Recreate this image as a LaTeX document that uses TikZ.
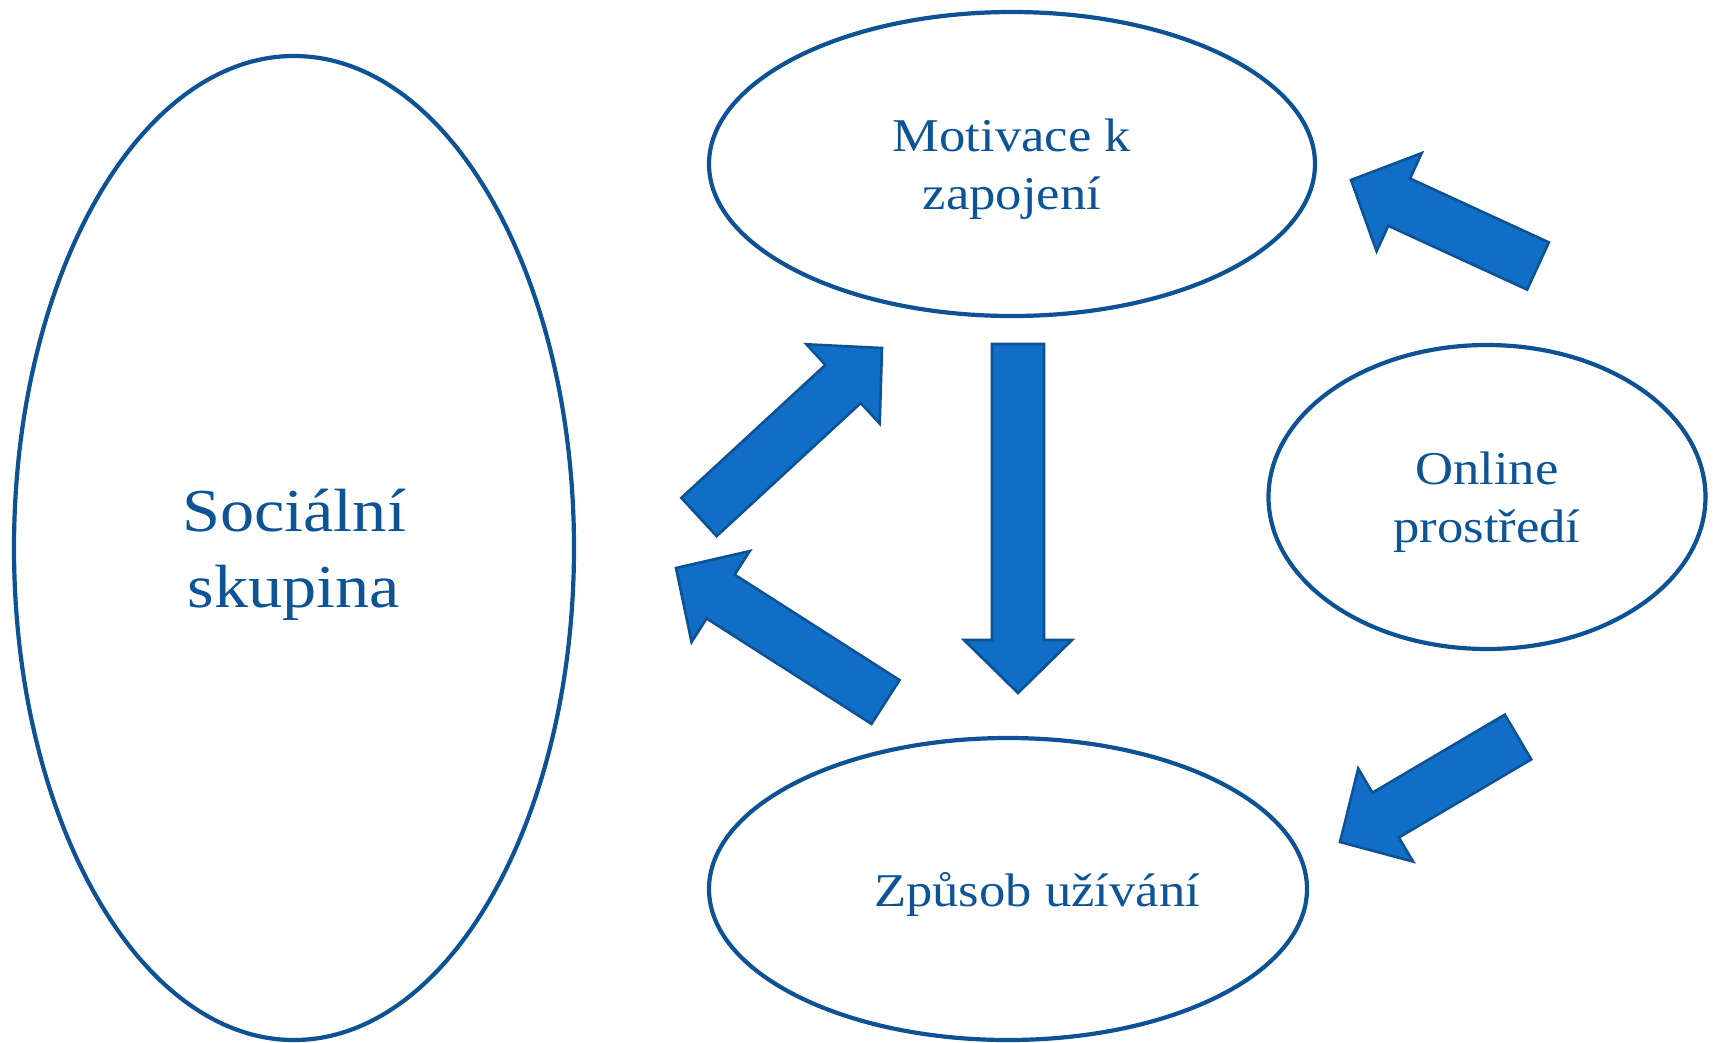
\documentclass[tikz,border=0pt]{standalone}
\usepackage{fontspec}
\setmainfont{Liberation Serif}[FakeStretch=1.12]
\usetikzlibrary{shapes.geometric,calc}

\definecolor{edgeblue}{RGB}{12,82,148}
\definecolor{fillblue}{RGB}{16,110,198}
\definecolor{textblue}{RGB}{12,84,150}

\tikzset{
  bubble/.style={ellipse, draw=edgeblue, line width=4.2pt, inner sep=0pt, fill=white},
  caption/.style={text=textblue, align=center, inner sep=0pt},
  blockarrow/.style={draw=edgeblue, fill=fillblue, line width=2.6pt, line join=miter},
}

% broad arrow from tail point #1 to tip #2: shaft 52, head 108 wide, 53 long
\newcommand\broadarrow[2]{%
  \coordinate (hb) at ($(#2)!53pt!(#1)$);
  \draw[blockarrow]
    ($(#1)!26pt!90:(#2)$) -- ($(hb)!26pt!90:(#2)$) -- ($(hb)!54pt!90:(#2)$)
    -- (#2)
    -- ($(hb)!54pt!-90:(#2)$) -- ($(hb)!26pt!-90:(#2)$) -- ($(#1)!26pt!-90:(#2)$)
    -- cycle;
}

\begin{document}
\begin{tikzpicture}[x=1pt, y=-1pt]
  \useasboundingbox (0,0) rectangle (1713,1042);

  % the four ellipses
  \node[bubble, minimum width=560pt, minimum height=984pt] (social) at (294,548) {};
  \node[bubble, minimum width=606pt, minimum height=304pt] (motiv) at (1012,164) {};
  \node[bubble, minimum width=437pt, minimum height=304pt] (online) at (1487,497) {};
  \node[bubble, minimum width=598pt, minimum height=302pt] (usage) at (1008,889) {};

  % their texts
  \node[caption, font=\fontsize{61}{76}\selectfont] (socialText) at (social.center) [yshift=-7pt] {Sociální\\skupina};
  \node[caption, font=\fontsize{47}{58}\selectfont] (motivText) at (motiv.center) [yshift=-5pt] {Motivace k\\zapojení};
  \node[caption, font=\fontsize{47}{58}\selectfont] (onlineText) at (online.center) [yshift=-5pt] {Online\\prostředí};
  \node[caption, font=\fontsize{47}{58}\selectfont, anchor=center] (usageText) at ($(usage.center)+(29,5)$) {Způsob užívání};

  % arrow end points
  \coordinate (a1tail) at (699,517);   \coordinate (a1tip) at (882,348);
  \coordinate (a2tail) at (1018,344);  \coordinate (a2tip) at (1018,693);
  \coordinate (a3tail) at (885.5,702); \coordinate (a3tip) at (676,568);
  \coordinate (a4tail) at (1538,266);  \coordinate (a4tip) at (1351,180);
  \coordinate (a5tail) at (1518,737);  \coordinate (a5tip) at (1340,842);

  \broadarrow{a1tail}{a1tip}
  \broadarrow{a2tail}{a2tip}
  \broadarrow{a3tail}{a3tip}
  \broadarrow{a4tail}{a4tip}
  \broadarrow{a5tail}{a5tip}
\end{tikzpicture}
\end{document}
